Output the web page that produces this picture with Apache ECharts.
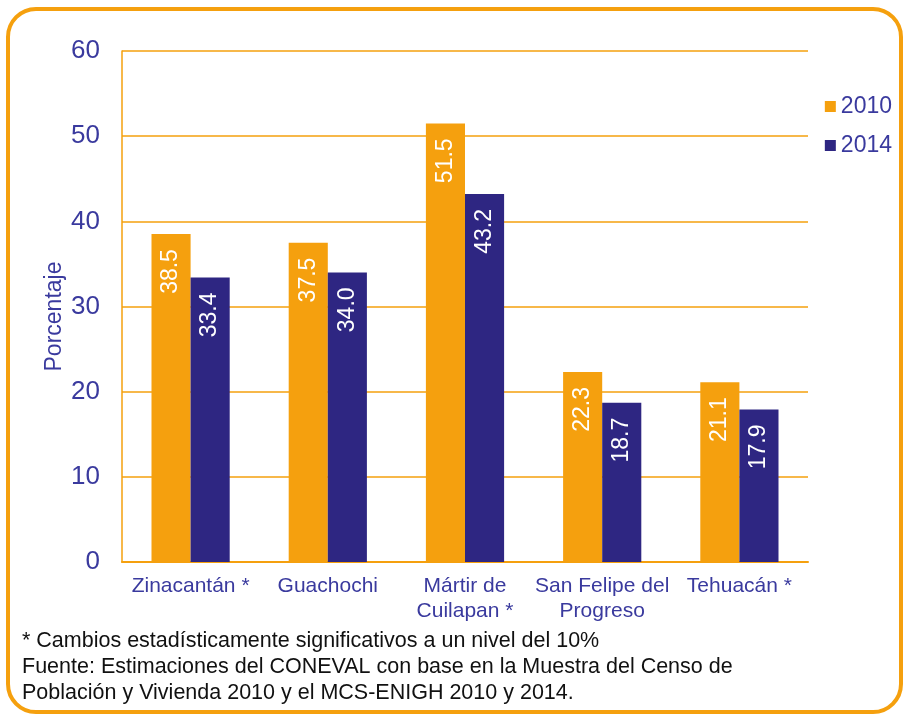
<!DOCTYPE html>
<html>
<head>
<meta charset="utf-8">
<script src="https://cdn.jsdelivr.net/npm/echarts@6/dist/echarts.min.js"></script>
<style>
  html, body { margin: 0; padding: 0; background: #fff; }
  #frame {
    position: absolute; left: 6px; top: 7px; width: 897px; height: 707px;
    border: 4px solid #F5A00E; border-radius: 30px; box-sizing: border-box;
  }
  #chart { position: absolute; left: 0; top: 0; width: 907px; height: 721px; }
</style>
</head>
<body>
<div id="frame"></div>
<div id="chart"></div>
<script>
// municipios y porcentajes
var categories = ['Zinacantán *', 'Guachochi', 'Mártir de\nCuilapan *', 'San Felipe del\nProgreso', 'Tehuacán *']
var values2010 = [38.5, 37.5, 51.5, 22.3, 21.1]
var values2014 = [33.4, 34.0, 43.2, 18.7, 17.9]
var yTicks = [0, 10, 20, 30, 40, 50, 60]

var orange = '#F5A00E'
var navy = '#2E2682'
var textBlue = '#3A3A9E'

var mycharts = echarts.init(document.getElementById('chart'))

var barLabel = {
  show: true,
  position: 'insideTop',
  rotate: 90,
  align: 'right',
  verticalAlign: 'middle',
  distance: 15,
  color: '#fff',
  fontSize: 23,
  fontFamily: 'Liberation Sans',
  formatter: function (p) {
    return p.value.toFixed(1)
  }
}

var option = {
  animation: false,
  textStyle: { fontFamily: 'Liberation Sans' },
  grid: { left: 122, right: 99, top: 51, bottom: 159, containLabel: false },
  legend: {
    orient: 'vertical',
    right: 10,
    top: 90,
    itemWidth: 11,
    itemHeight: 11,
    itemGap: 16,
    textStyle: { color: textBlue, fontSize: 23, fontFamily: 'Liberation Sans' },
    data: [
      { name: '2010', icon: 'rect' },
      { name: '2014', icon: 'rect' }
    ]
  },
  xAxis: {
    type: 'category',
    data: categories,
    axisLine: { lineStyle: { color: orange, width: 2 } },
    axisTick: { show: false },
    axisLabel: {
      color: textBlue,
      fontSize: 21,
      lineHeight: 25,
      margin: 12,
      interval: 0
    }
  },
  yAxis: {
    type: 'value',
    min: yTicks[0],
    max: yTicks[yTicks.length - 1],
    interval: 10,
    name: 'Porcentaje',
    nameLocation: 'middle',
    nameGap: 56,
    nameMoveOverlap: false,
    nameTextStyle: { color: textBlue, fontSize: 23, padding: [0, 20, 0, 0] },
    axisLine: { show: true, lineStyle: { color: orange, width: 1.5 } },
    axisTick: { show: false },
    axisLabel: { color: textBlue, fontSize: 26, margin: 22 },
    splitLine: { lineStyle: { color: orange, width: 1.5 } }
  },
  series: [
    {
      name: '2010',
      type: 'bar',
      data: values2010,
      barWidth: '28.5%',
      barGap: '0%',
      itemStyle: { color: orange },
      label: barLabel
    },
    {
      name: '2014',
      type: 'bar',
      data: values2014,
      barWidth: '28.5%',
      itemStyle: { color: navy },
      label: barLabel
    }
  ],
  graphic: [
    {
      type: 'text',
      left: 22,
      top: 628,
      style: {
        text: '* Cambios estadísticamente significativos a un nivel del 10%\nFuente: Estimaciones del CONEVAL con base en la Muestra del Censo de\nPoblación y Vivienda 2010 y el MCS-ENIGH 2010 y 2014.',
        fill: '#111',
        fontSize: 21.5,
        lineHeight: 26,
        fontFamily: 'Liberation Sans'
      }
    }
  ]
}
mycharts.setOption(option)
</script>
</body>
</html>
